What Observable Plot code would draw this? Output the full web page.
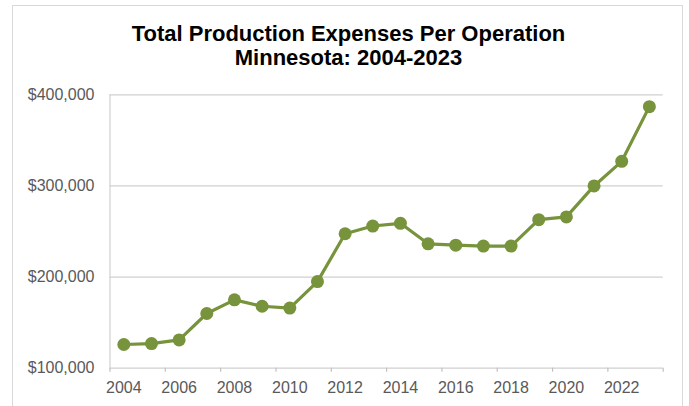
<!DOCTYPE html>
<html>
<head>
<meta charset="utf-8">
<script src="https://cdn.jsdelivr.net/npm/d3@7"></script>
<script src="https://cdn.jsdelivr.net/npm/@observablehq/plot@0.6"></script>
<style>
  html, body { margin: 0; padding: 0; background: #fff; width: 689px; height: 406px; overflow: hidden; }
  body { position: relative; font-family: "Liberation Sans", Arial, sans-serif; }
  #frame { position: absolute; left: 12px; top: 5px; width: 671px; height: 420px; border: 1.5px solid #d9d9d9; box-sizing: border-box; }
  #title { position: absolute; left: 0; top: 0; width: 697px; text-align: center; font-weight: bold; font-size: 22px; line-height: 24px; color: #000; padding-top: 22px; }
  #chart { position: absolute; left: 0; top: 80px; }
</style>
</head>
<body>
<div id="frame"></div>
<div id="title">Total Production Expenses Per Operation<br>Minnesota: 2004-2023</div>
<div id="chart"></div>
<script>
const years = [2004, 2005, 2006, 2007, 2008, 2009, 2010, 2011, 2012, 2013, 2014, 2015, 2016, 2017, 2018, 2019, 2020, 2021, 2022, 2023];
const expenses = [126000, 127000, 131000, 160000, 175000, 168000, 166000, 195000, 247500, 256000, 259000, 236500, 235000, 234000, 234000, 263000, 266000, 300000, 327000, 387000];
const yTicks = [100000, 200000, 300000, 400000];
const xLabels = [2004, 2006, 2008, 2010, 2012, 2014, 2016, 2018, 2020, 2022];

const data = years.map((y, i) => ({year: y, value: expenses[i]}));
const xDomain = [years[0] - 0.5, years[years.length - 1] + 0.5];
const xBounds = d3.range(xDomain[0], xDomain[1] + 0.01, 2);

const green = "#77933c";
const fmt = d3.format("$,");

const chart = Plot.plot({
  width: 689,
  height: 326,
  marginLeft: 109.5,
  marginRight: 26.3,
  marginTop: 14.3,
  marginBottom: 38.3,
  style: {fontFamily: "'Liberation Sans', Arial, sans-serif", fontSize: "16px", color: "#595959", background: "transparent", overflow: "visible"},
  x: {domain: xDomain, axis: null},
  y: {domain: [yTicks[0], yTicks[yTicks.length - 1]], axis: null},
  marks: [
    Plot.gridY(yTicks, {stroke: "#d0d0d0", strokeOpacity: 1, strokeWidth: 1.2}),
    Plot.ruleX([xDomain[0]], {stroke: "#d0d0d0", strokeWidth: 1.2}),
    Plot.axisX({ticks: xBounds, tickFormat: () => "", tickSize: 4, stroke: "#c0c0c0", strokeWidth: 1.2, label: null}),
    Plot.axisX({ticks: xLabels, tickFormat: d => String(d), tickSize: 0, tickPadding: 13.5, fontSize: 16, fill: "#595959", label: null}),
    Plot.axisY({ticks: yTicks, tickFormat: fmt, tickSize: 0, tickPadding: 15.5, fontSize: 16, fill: "#595959", label: null}),
    Plot.line(data, {x: "year", y: "value", stroke: green, strokeWidth: 3.2}),
    Plot.dot(data, {x: "year", y: "value", r: 6.5, fill: green, stroke: "none"})
  ]
});
document.getElementById("chart").appendChild(chart);
</script>
</body>
</html>
